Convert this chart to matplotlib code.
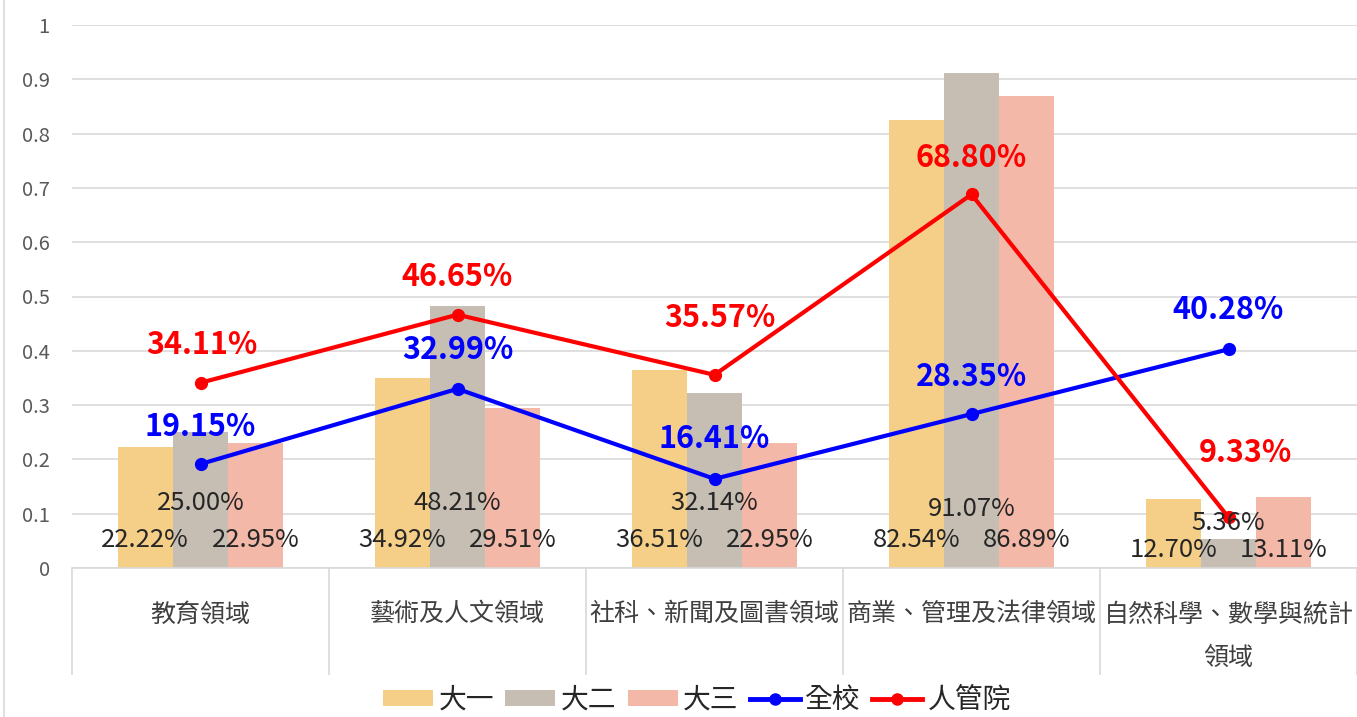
import matplotlib
matplotlib.use("Agg")
import matplotlib.pyplot as plt
import numpy as np
from matplotlib.lines import Line2D
from matplotlib.patches import Patch

plt.rcParams["font.family"] = ["Noto Sans CJK TC", "DejaVu Sans"]

CATEGORIES = ["教育領域", "藝術及人文領域", "社科、新聞及圖書領域",
              "商業、管理及法律領域", "自然科學、數學與統計\n領域"]
YEAR1 = [0.2222, 0.3492, 0.3651, 0.8254, 0.1270]
YEAR2 = [0.2500, 0.4821, 0.3214, 0.9107, 0.0536]
YEAR3 = [0.2295, 0.2951, 0.2295, 0.8689, 0.1311]
SCHOOL = [0.1915, 0.3299, 0.1641, 0.2835, 0.4028]
HRM = [0.3411, 0.4665, 0.3557, 0.6880, 0.0933]
BAR_NAMES = ["大一", "大二", "大三"]
LINE_NAMES = ["全校", "人管院"]

BAR_COLORS = ["#F5CF87", "#C6BEB2", "#F4B8A8"]
BLUE = "#0000FF"
RED = "#FF0000"
GRID = "#D9D9D9"

# layout of the value labels (y in data units, offsets in points)
BAR_LABEL_Y_LOW = [0.051, 0.051, 0.051, 0.051, 0.033]
BAR_LABEL_Y_HIGH = [0.12, 0.12, 0.12, 0.109, 0.083]
RED_OFFSETS = [(1, 27), (0, 27), (4, 41), (0, 26), (12, 46)]
BLUE_OFFSETS = [(0, 27), (0, 28), (0, 29), (0, 27), (0, 28)]

fig = plt.figure(figsize=(13.57, 7.17), dpi=100)
ax = fig.add_axes([72 / 1357, 1 - 568 / 717, 1 - 72 / 1357, (568 - 25) / 717])

x = np.arange(len(CATEGORIES))
w = 0.215
for i, (vals, name, col) in enumerate(zip([YEAR1, YEAR2, YEAR3], BAR_NAMES, BAR_COLORS)):
    xs = x + (i - 1) * w
    ax.bar(xs, vals, width=w, color=col, zorder=2, label=name)
    ys = BAR_LABEL_Y_HIGH if i == 1 else BAR_LABEL_Y_LOW
    for xi, yi, v in zip(xs, ys, vals):
        ax.text(xi, yi, f"{v * 100:.2f}%", ha="center", va="center",
                fontsize=18.5, color="#262626", zorder=5)

for vals, col, offs in [(SCHOOL, BLUE, BLUE_OFFSETS), (HRM, RED, RED_OFFSETS)]:
    ax.plot(x, vals, color=col, lw=3, marker="o", ms=8.5, zorder=4)
    for xi, v, off in zip(x, vals, offs):
        ax.annotate(f"{v * 100:.2f}%", (xi, v), xytext=off, textcoords="offset points",
                    ha="center", va="center", fontsize=22, fontweight="bold",
                    color=col, zorder=6)

ax.set_xlim(-0.5, len(CATEGORIES) - 0.5)
ax.set_ylim(0, 1)
ax.set_yticks(np.arange(0, 1.01, 0.1))
ax.set_yticklabels(["0", "0.1", "0.2", "0.3", "0.4", "0.5", "0.6", "0.7", "0.8", "0.9", "1"])
ax.yaxis.grid(True, color=GRID, lw=1.2, zorder=0)
ax.set_axisbelow(True)
ax.tick_params(axis="y", length=0, pad=16, labelsize=14.5, labelcolor="#595959")

ax.set_xticks(x)
ax.set_xticklabels(CATEGORIES, fontsize=18, color="#404040", linespacing=1.9)
ax.set_xticks(np.arange(-0.5, len(CATEGORIES)), minor=True)
ax.tick_params(axis="x", which="major", length=0, pad=24)
ax.tick_params(axis="x", which="minor", length=77, width=1.2, color=GRID)

for side in ["top", "right", "left"]:
    ax.spines[side].set_visible(False)
ax.spines["bottom"].set_color(GRID)
ax.spines["bottom"].set_linewidth(1.2)

fig.add_artist(Line2D([4 / 1357, 4 / 1357], [0, 1], color=GRID, lw=1.2))

handles = [Patch(facecolor=c, label=n) for c, n in zip(BAR_COLORS, BAR_NAMES)]
handles += [Line2D([], [], color=c, lw=3.5, marker="o", ms=8, label=n)
            for c, n in zip([BLUE, RED], LINE_NAMES)]
fig.legend(handles=handles, loc="center", bbox_to_anchor=(697 / 1357, 1 - 700 / 717),
           ncol=5, frameon=False, fontsize=20, handlelength=1.8, handleheight=0.5,
           handletextpad=0.2, columnspacing=0.4, labelcolor="#262626",
           borderpad=0, borderaxespad=0)

fig.savefig("out.png", dpi=100)
